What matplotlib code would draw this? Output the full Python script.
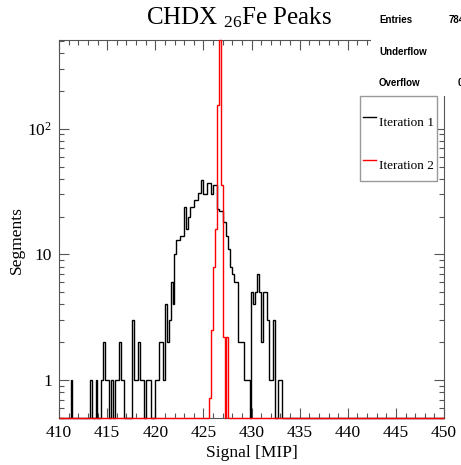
import numpy as np
import matplotlib
matplotlib.use("Agg")
import matplotlib.pyplot as plt
from matplotlib.patches import Rectangle
from matplotlib.lines import Line2D
from matplotlib.ticker import FixedLocator, FixedFormatter, LogLocator, NullFormatter, MultipleLocator

plt.rcParams['font.family'] = ['Liberation Serif', 'DejaVu Serif']
plt.rcParams['mathtext.fontset'] = 'custom'
plt.rcParams['mathtext.rm'] = 'Liberation Serif'
plt.rcParams['mathtext.it'] = 'Liberation Serif:italic'

# histogram binning (0.2 MIP bins, 410-450)
x_lo, x_hi, bin_w = 410, 450, 0.2

# iteration 1: lower bin edge -> segments
black_bins = [411.2, 413.2, 413.8, 414.4, 414.6, 414.8, 415.0, 415.4, 415.8, 416.0,
              416.2, 416.4, 416.6, 417.6, 417.8, 418.0, 418.2, 418.4, 418.6, 419.0,
              419.2, 419.4, 420.0, 420.2, 420.4, 420.6, 420.8, 421.0, 421.2, 421.4,
              421.6, 421.8, 422.0, 422.2, 422.4, 422.6, 422.8, 423.0, 423.2, 423.4,
              423.6, 423.8, 424.0, 424.2, 424.4, 424.6, 424.8, 425.0, 425.2, 425.4,
              425.6, 425.8, 426.0, 426.2, 426.4, 426.6, 426.8, 427.0, 427.2, 427.4,
              427.6, 427.8, 428.0, 428.2, 428.4, 428.6, 428.8, 429.0, 429.2, 429.4,
              429.6, 430.0, 430.2, 430.4, 430.6, 430.8, 431.0, 431.2, 431.4, 431.6,
              431.8, 432.0, 432.2, 432.8, 433.0]
black_counts = [1, 1, 1, 1, 2, 1, 1, 1, 1, 1,
                2, 1, 1, 3, 1, 1, 2, 1, 1, 1,
                1, 1, 1, 1, 2, 2, 1, 4, 2, 3,
                6, 4, 10, 13, 13, 14, 14, 24, 16, 20,
                24, 24, 27, 27, 31, 31, 39, 30, 30, 37,
                37, 30, 36, 36, 23, 22, 22, 18, 18, 14,
                11, 8, 7, 6, 6, 2, 2, 2, 1, 1,
                1, 5, 4, 5, 7, 5, 2, 5, 5, 3,
                1, 1, 3, 1, 1]

# iteration 2
red_bins = [425.6, 425.8, 426.0, 426.2, 426.4, 426.6, 426.8, 427.0, 427.4]
red_counts = [0.72, 2.5, 8, 16, 155, 560, 36, 2.2, 2.2]

y_lo, y_hi = 0.5, 508

edges = np.arange(x_lo, x_hi + bin_w / 2, bin_w)
h1, _ = np.histogram(np.array(black_bins) + bin_w / 2, bins=edges, weights=black_counts)
h2, _ = np.histogram(np.array(red_bins) + bin_w / 2, bins=edges, weights=red_counts)

W, H = 461, 465
fig = plt.figure(figsize=(W / 100, H / 100), dpi=100)
ax = fig.add_axes([59 / W, 1 - 418 / H, (444 - 59) / W, (418 - 40) / H])

def px(x, y):
    return (x / W, 1 - y / H)

# empty bins sit on the frame like in ROOT
ax.stairs(np.clip(h1, y_lo, y_hi), edges, baseline=None, color='black', lw=1.0,
          clip_on=False, zorder=3)
ax.stairs(np.clip(h2, y_lo, y_hi), edges, baseline=None, color='red', lw=1.0,
          clip_on=False, zorder=4)

ax.set_yscale('log')
ax.set_xlim(x_lo, x_hi)
ax.set_ylim(y_lo, y_hi)

ax.xaxis.set_major_locator(MultipleLocator(5))
ax.xaxis.set_minor_locator(MultipleLocator(1))
ax.yaxis.set_major_locator(FixedLocator([1, 10, 100]))
ax.yaxis.set_major_formatter(FixedFormatter(['1', '10', r'$10^{2}$']))
ax.yaxis.set_minor_locator(LogLocator(base=10, subs=np.arange(2, 10)))
ax.yaxis.set_minor_formatter(NullFormatter())

ax.tick_params(which='both', direction='in', top=True, right=True, labelsize=12.5,
               color='#555555', width=0.8)
ax.tick_params(which='major', length=7.5, pad=5)
ax.tick_params(which='minor', length=3.8)
for s in ax.spines.values():
    s.set_color('#555555')
    s.set_linewidth(0.8)

ax.set_xlabel('Signal [MIP]', fontsize=12.5, labelpad=3)
fig.text(*px(17, 240), 'Segments', rotation=90, ha='center', va='center', fontsize=12.5)

fig.text(*px(239, 18), r'CHDX ${}_{26}$Fe Peaks', ha='center', va='center', fontsize=18)

# stats box (cut off at the right edge, as in the reference)
fig.add_artist(Rectangle(px(371, 96), (W - 371) / W, 96 / H, transform=fig.transFigure,
                         facecolor='white', edgecolor='none', zorder=5))
for y, name in [(20, 'Entries'), (52, 'Underflow'), (83, 'Overflow')]:
    fig.text(*px(379, y), name, ha='left', va='center', fontsize=7,
             family='Liberation Sans', weight='bold', zorder=6)
fig.text(*px(449, 20), '784', ha='left', va='center', fontsize=7,
         family='Liberation Sans', weight='bold', zorder=6)
fig.text(*px(458, 83), '0', ha='left', va='center', fontsize=7,
         family='Liberation Sans', weight='bold', zorder=6)

# legend
fig.add_artist(Rectangle(px(360, 181), 77 / W, 85 / H, transform=fig.transFigure,
                         facecolor='white', edgecolor='#999999', lw=1.0, zorder=5))
for y, label, c in [(117, 'Iteration 1', 'black'), (160, 'Iteration 2', 'red')]:
    fig.add_artist(Line2D([363 / W, 376 / W], [1 - y / H, 1 - y / H],
                          transform=fig.transFigure, color=c, lw=1.0, zorder=6))
    fig.text(*px(379, y + 6), label, ha='left', va='center', fontsize=9.5, zorder=6)

fig.savefig('out.png', dpi=100)
